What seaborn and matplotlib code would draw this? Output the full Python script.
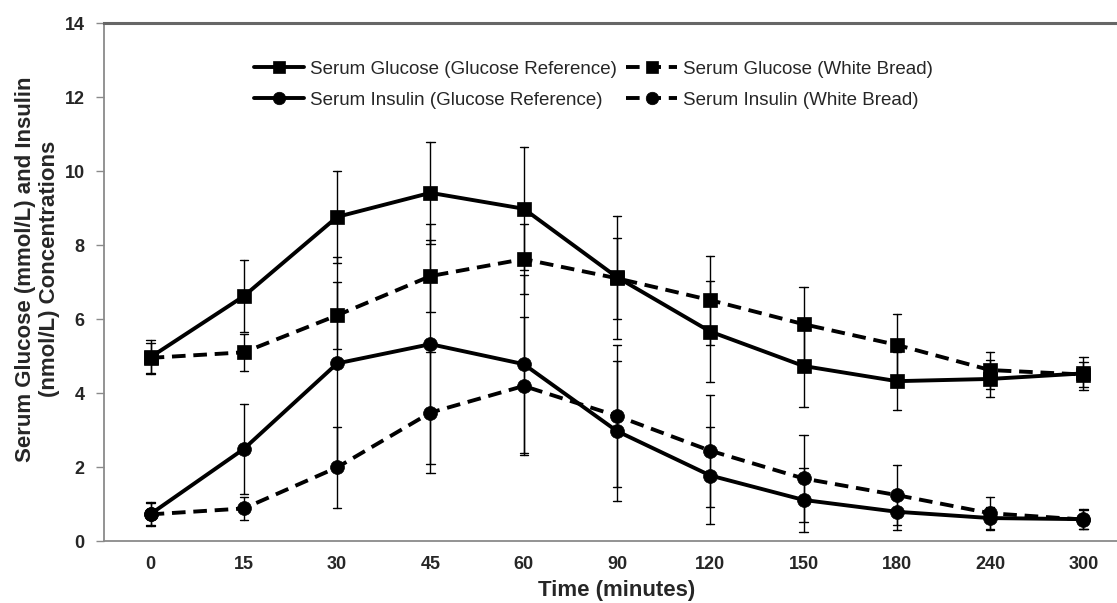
import numpy as np
import pandas as pd
import matplotlib
matplotlib.use("Agg")
import matplotlib.pyplot as plt
from matplotlib.lines import Line2D
import seaborn as sns

# ---- data ----
times = ["0", "15", "30", "45", "60", "90", "120", "150", "180", "240", "300"]

glucose_ref = [4.97, 6.62, 8.76, 9.41, 8.98, 7.13, 5.66, 4.73, 4.32, 4.38, 4.53]
glucose_ref_sd = [0.45, 0.97, 1.25, 1.38, 1.66, 1.66, 1.37, 1.10, 0.78, 0.50, 0.45]
glucose_wb = [4.95, 5.10, 6.10, 7.16, 7.62, 7.10, 6.51, 5.86, 5.30, 4.62, 4.50]
glucose_wb_sd = [0.40, 0.50, 0.90, 0.97, 0.95, 1.10, 1.20, 1.00, 0.84, 0.50, 0.35]
insulin_ref = [0.73, 2.49, 4.80, 5.32, 4.78, 2.97, 1.77, 1.11, 0.79, 0.62, 0.59]
insulin_ref_sd = [0.33, 1.21, 2.87, 3.25, 2.40, 1.89, 1.32, 0.87, 0.49, 0.30, 0.27]
insulin_wb = [0.72, 0.88, 1.99, 3.47, 4.19, 3.38, 2.44, 1.69, 1.24, 0.75, 0.58]
insulin_wb_sd = [0.30, 0.32, 1.10, 1.63, 1.86, 1.92, 1.51, 1.17, 0.82, 0.45, 0.25]

series_names = [
    "Serum Glucose (Glucose Reference)",
    "Serum Glucose (White Bread)",
    "Serum Insulin (Glucose Reference)",
    "Serum Insulin (White Bread)",
]
series_means = [glucose_ref, glucose_wb, insulin_ref, insulin_wb]
series_sds = [glucose_ref_sd, glucose_wb_sd, insulin_ref_sd, insulin_wb_sd]

# long table: mean-sd, mean, mean+sd per point -> estimator mean, errorbar = full range
rows = []
for name, means, sds in zip(series_names, series_means, series_sds):
    for t, m, s in zip(times, means, sds):
        for v in (m - s, m, m + s):
            rows.append({"Time": t, "Value": v, "Series": name})
df = pd.DataFrame(rows)

sns.set_style("white")
plt.rcParams["font.family"] = ["Liberation Sans", "DejaVu Sans"]

fig = plt.figure(figsize=(11.17, 6.03), dpi=100, facecolor="white")
ax = fig.add_axes([104 / 1117, 62 / 603, 1026 / 1117, 518 / 603])

dash = (0, (3.5, 2.0))
linestyles = ["-", dash, "-", dash]
markers = ["s", "s", "o", "o"]

sns.pointplot(
    data=df, x="Time", y="Value", hue="Series",
    order=times, hue_order=series_names,
    estimator="mean", errorbar=("pi", 100),
    palette=["black"] * 4, markers=markers, linestyles=linestyles,
    dodge=False, capsize=0.09, legend=False,
    err_kws={"linewidth": 1.0, "linestyle": "-"},
    linewidth=2.8, markersize=10, markeredgewidth=0.5,
    ax=ax,
)

ax.set_xlim(-0.5, 10.5)
ax.set_ylim(0, 14)
ax.set_yticks(np.arange(0, 15, 2))

ax.set_xticks(range(len(times)))
ax.set_xticklabels(times)
ax.set_xticks(np.arange(-0.5, len(times), 1), minor=True)

axis_gray = "#8a8a8a"
ax.tick_params(axis="x", which="major", length=0, pad=11, labelsize=13)
ax.tick_params(axis="x", which="minor", length=6, width=1, color=axis_gray, direction="out")
ax.tick_params(axis="y", which="major", length=6, width=1, color=axis_gray,
               direction="out", pad=8, labelsize=13, left=True)
for lab in ax.get_xticklabels() + ax.get_yticklabels():
    lab.set_fontweight("bold")

for side in ["left", "bottom"]:
    ax.spines[side].set_color(axis_gray)
    ax.spines[side].set_linewidth(1.3)
ax.spines["top"].set_color("#666666")
ax.spines["top"].set_linewidth(2.2)
ax.spines["right"].set_visible(False)

ax.set_xlabel("Time (minutes)", fontsize=16, fontweight="bold", labelpad=5)
ax.set_ylabel("Serum Glucose (mmol/L) and Insulin\n(nmol/L) Concentrations",
              fontsize=16, fontweight="bold")
ax.yaxis.set_label_coords(-0.043, 0.525)

# legend (rows: glucose pair, insulin pair)
handles = []
for ls, mk in zip(linestyles, markers):
    handles.append(Line2D([], [], color="black", linewidth=2.8, linestyle=ls,
                          marker=mk, markersize=9, markeredgewidth=0.5))
order = [0, 2, 1, 3]
fig.legend([handles[i] for i in order], [series_names[i] for i in order],
           ncol=2, loc="upper center", bbox_to_anchor=(0.531, 0.899),
           frameon=False, fontsize=13.5, handlelength=2.7, handletextpad=0.3,
           columnspacing=0.5, labelspacing=0.72, borderpad=0, borderaxespad=0)

fig.savefig("out.png", dpi=100, facecolor="white")
